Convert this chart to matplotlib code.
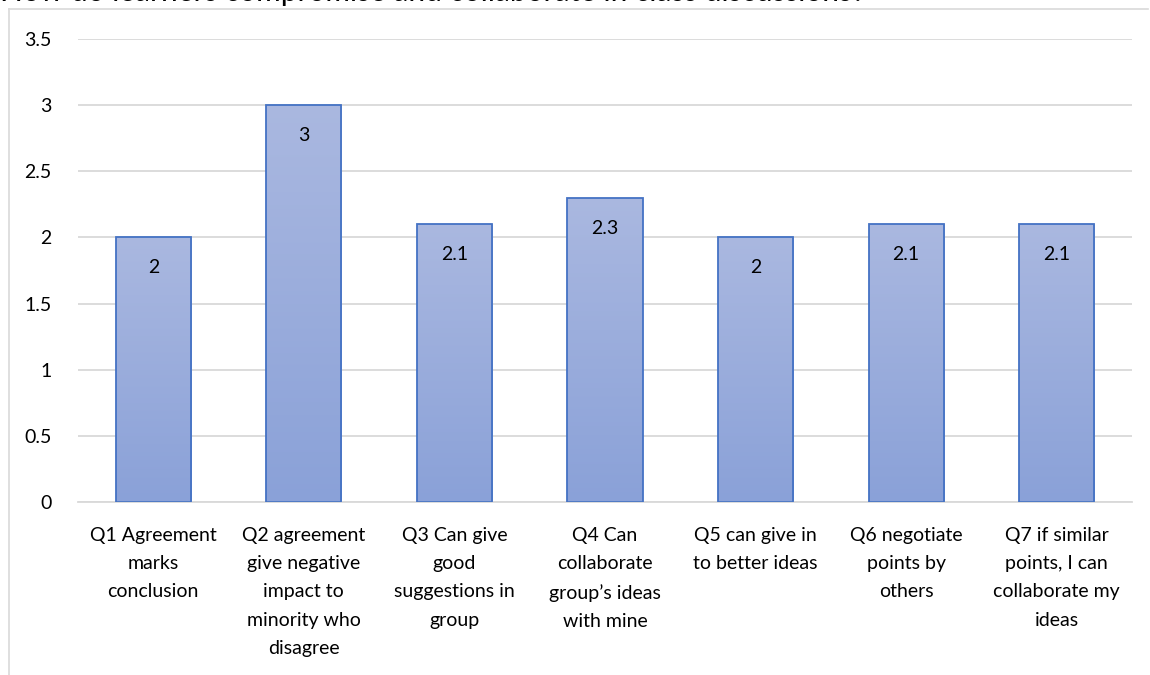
import matplotlib
matplotlib.use("Agg")
import matplotlib.pyplot as plt
import numpy as np
from matplotlib.colors import LinearSegmentedColormap
from matplotlib.lines import Line2D

categories = [
    "Q1 Agreement\nmarks\nconclusion",
    "Q2 agreement\ngive negative\nimpact to\nminority who\ndisagree",
    "Q3 Can give\ngood\nsuggestions in\ngroup",
    "Q4 Can\ncollaborate\ngroup\u2019s ideas\nwith mine",
    "Q5 can give in\nto better ideas",
    "Q6 negotiate\npoints by\nothers",
    "Q7 if similar\npoints, I can\ncollaborate my\nideas",
]
values = [2, 3, 2.1, 2.3, 2, 2.1, 2.1]
value_labels = ["2", "3", "2.1", "2.3", "2", "2.1", "2.1"]
yticks = [0, 0.5, 1, 1.5, 2, 2.5, 3, 3.5]
ytick_labels = ["0", "0.5", "1", "1.5", "2", "2.5", "3", "3.5"]
title = "How do learners compromise and collaborate in class discussions?"

plt.rcParams['font.family'] = ['Lato', 'DejaVu Sans']

fig = plt.figure(figsize=(11.5, 6.75), dpi=100)
ax = fig.add_axes([78/1150, 1-502/675, (1132-78)/1150, (502-39)/675])

x = np.arange(len(values))
bars = ax.bar(x, values, width=0.5, color='none', edgecolor='#4472c4', linewidth=1.3, zorder=3)

cmap = LinearSegmentedColormap.from_list('g', ['#8aa1d8', '#aab8e0'])
grad = np.linspace(0, 1, 256).reshape(-1, 1)
for b in bars:
    x0, w, h = b.get_x(), b.get_width(), b.get_height()
    im = ax.imshow(grad, cmap=cmap, aspect='auto', extent=[x0, x0 + w, 0, h],
                   origin='lower', zorder=2)
    im.set_clip_path(b)

for xi, v, lab in zip(x, values, value_labels):
    ax.text(xi, v - 0.23, lab, ha='center', va='center', fontsize=14, color='#000000', zorder=4)

ax.set_xlim(-0.5, len(values) - 0.5)
ax.set_ylim(0, 3.5)
ax.set_yticks(yticks)
ax.set_yticklabels(ytick_labels, fontsize=14)
ax.set_xticks(x)
ax.set_xticklabels(categories, fontsize=14, linespacing=1.8, va='top')
ax.tick_params(axis='both', length=0)
ax.tick_params(axis='y', pad=19)
ax.tick_params(axis='x', pad=18)
ax.grid(axis='y', color='#d9d9d9', linewidth=1.3, zorder=0)
for s in ['top', 'right', 'left']:
    ax.spines[s].set_visible(False)
ax.spines['bottom'].set_color('#d9d9d9')
ax.spines['bottom'].set_linewidth(1.3)

# chart frame (left and top)
fig.add_artist(Line2D([9/1150, 9/1150], [0, 1-9/675], color='#d9d9d9', linewidth=1.2, transform=fig.transFigure))
fig.add_artist(Line2D([9/1150, 1148/1150], [1-9/675, 1-9/675], color='#d9d9d9', linewidth=1.2, transform=fig.transFigure))

fig.text(0.0, 1 - 1/675, title, ha='left', va='baseline', fontsize=21.5, color='#000000')

fig.savefig('out.png', dpi=100)
